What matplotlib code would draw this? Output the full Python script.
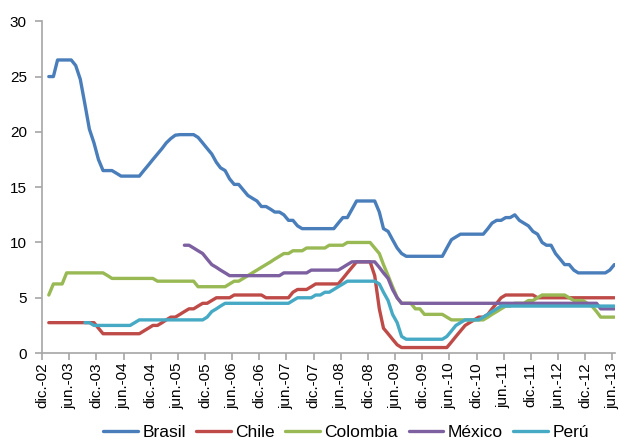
import numpy as np
import pandas as pd
import matplotlib
matplotlib.use("Agg")
import matplotlib.pyplot as plt

nan = np.nan

# monthly policy rates (%), Jan 2003 - Jun 2013
brasil = [
    25.0, 25.0, 26.5, 26.5, 26.5, 26.5, 26.0, 24.75, 22.5, 20.25, 19.0, 17.5,
    16.5, 16.5, 16.5, 16.25, 16.0, 16.0, 16.0, 16.0, 16.0, 16.5, 17.0, 17.5,
    18.0, 18.5, 19.0, 19.4, 19.7, 19.75, 19.75, 19.75, 19.75, 19.5, 19.0, 18.5,
    18.0, 17.25, 16.75, 16.5, 15.75, 15.25, 15.25, 14.75, 14.25, 14.0, 13.75, 13.25,
    13.25, 13.0, 12.75, 12.75, 12.5, 12.0, 12.0, 11.5, 11.25, 11.25, 11.25, 11.25,
    11.25, 11.25, 11.25, 11.25, 11.75, 12.25, 12.25, 13.0, 13.75, 13.75, 13.75, 13.75,
    13.75, 12.75, 11.25, 11.0, 10.25, 9.5, 9.0, 8.75, 8.75, 8.75, 8.75, 8.75,
    8.75, 8.75, 8.75, 8.75, 9.5, 10.25, 10.5, 10.75, 10.75, 10.75, 10.75, 10.75,
    10.75, 11.25, 11.75, 12.0, 12.0, 12.25, 12.25, 12.5, 12.0, 11.75, 11.5, 11.0,
    10.75, 10.0, 9.75, 9.75, 9.0, 8.5, 8.0, 8.0, 7.5, 7.25, 7.25, 7.25,
    7.25, 7.25, 7.25, 7.25, 7.5, 8.0,
]

chile = [
    2.75, 2.75, 2.75, 2.75, 2.75, 2.75, 2.75, 2.75, 2.75, 2.75, 2.75, 2.25,
    1.75, 1.75, 1.75, 1.75, 1.75, 1.75, 1.75, 1.75, 1.75, 2.0, 2.25, 2.5,
    2.5, 2.75, 3.0, 3.25, 3.25, 3.5, 3.75, 4.0, 4.0, 4.25, 4.5, 4.5,
    4.75, 5.0, 5.0, 5.0, 5.0, 5.25, 5.25, 5.25, 5.25, 5.25, 5.25, 5.25,
    5.0, 5.0, 5.0, 5.0, 5.0, 5.0, 5.5, 5.75, 5.75, 5.75, 6.0, 6.25,
    6.25, 6.25, 6.25, 6.25, 6.25, 6.75, 7.25, 7.75, 8.25, 8.25, 8.25, 8.25,
    7.0, 4.0, 2.25, 1.75, 1.25, 0.75, 0.5, 0.5, 0.5, 0.5, 0.5, 0.5,
    0.5, 0.5, 0.5, 0.5, 0.5, 1.0, 1.5, 2.0, 2.5, 2.75, 3.0, 3.25,
    3.25, 3.5, 4.0, 4.5, 5.0, 5.25, 5.25, 5.25, 5.25, 5.25, 5.25, 5.25,
    5.0, 5.0, 5.0, 5.0, 5.0, 5.0, 5.0, 5.0, 5.0, 5.0, 5.0, 5.0,
    5.0, 5.0, 5.0, 5.0, 5.0, 5.0,
]

colombia = [
    5.25, 6.25, 6.25, 6.25, 7.25, 7.25, 7.25, 7.25, 7.25, 7.25, 7.25, 7.25,
    7.25, 7.0, 6.75, 6.75, 6.75, 6.75, 6.75, 6.75, 6.75, 6.75, 6.75, 6.75,
    6.5, 6.5, 6.5, 6.5, 6.5, 6.5, 6.5, 6.5, 6.5, 6.0, 6.0, 6.0,
    6.0, 6.0, 6.0, 6.0, 6.25, 6.5, 6.5, 6.75, 7.0, 7.25, 7.5, 7.75,
    8.0, 8.25, 8.5, 8.75, 9.0, 9.0, 9.25, 9.25, 9.25, 9.5, 9.5, 9.5,
    9.5, 9.5, 9.75, 9.75, 9.75, 9.75, 10.0, 10.0, 10.0, 10.0, 10.0, 10.0,
    9.5, 9.0, 8.0, 7.0, 6.0, 5.0, 4.5, 4.5, 4.5, 4.0, 4.0, 3.5,
    3.5, 3.5, 3.5, 3.5, 3.25, 3.0, 3.0, 3.0, 3.0, 3.0, 3.0, 3.0,
    3.0, 3.25, 3.5, 3.75, 4.0, 4.25, 4.25, 4.5, 4.5, 4.5, 4.75, 4.75,
    5.0, 5.25, 5.25, 5.25, 5.25, 5.25, 5.25, 5.0, 4.75, 4.75, 4.75, 4.5,
    4.25, 3.75, 3.25, 3.25, 3.25, 3.25,
]

mexico = [
    nan, nan, nan, nan, nan, nan, nan, nan, nan, nan, nan, nan,
    nan, nan, nan, nan, nan, nan, nan, nan, nan, nan, nan, nan,
    nan, nan, nan, nan, nan, nan, 9.75, 9.75, 9.5, 9.25, 9.0, 8.5,
    8.0, 7.75, 7.5, 7.25, 7.0, 7.0, 7.0, 7.0, 7.0, 7.0, 7.0, 7.0,
    7.0, 7.0, 7.0, 7.0, 7.25, 7.25, 7.25, 7.25, 7.25, 7.25, 7.5, 7.5,
    7.5, 7.5, 7.5, 7.5, 7.5, 7.75, 8.0, 8.25, 8.25, 8.25, 8.25, 8.25,
    8.25, 7.75, 7.25, 6.75, 5.75, 5.0, 4.5, 4.5, 4.5, 4.5, 4.5, 4.5,
    4.5, 4.5, 4.5, 4.5, 4.5, 4.5, 4.5, 4.5, 4.5, 4.5, 4.5, 4.5,
    4.5, 4.5, 4.5, 4.5, 4.5, 4.5, 4.5, 4.5, 4.5, 4.5, 4.5, 4.5,
    4.5, 4.5, 4.5, 4.5, 4.5, 4.5, 4.5, 4.5, 4.5, 4.5, 4.5, 4.5,
    4.5, 4.5, 4.0, 4.0, 4.0, 4.0,
]

peru = [
    nan, nan, nan, nan, nan, nan, nan, nan, 2.75, 2.75, 2.5, 2.5,
    2.5, 2.5, 2.5, 2.5, 2.5, 2.5, 2.5, 2.75, 3.0, 3.0, 3.0, 3.0,
    3.0, 3.0, 3.0, 3.0, 3.0, 3.0, 3.0, 3.0, 3.0, 3.0, 3.0, 3.25,
    3.75, 4.0, 4.25, 4.5, 4.5, 4.5, 4.5, 4.5, 4.5, 4.5, 4.5, 4.5,
    4.5, 4.5, 4.5, 4.5, 4.5, 4.5, 4.75, 5.0, 5.0, 5.0, 5.0, 5.25,
    5.25, 5.5, 5.5, 5.75, 6.0, 6.25, 6.5, 6.5, 6.5, 6.5, 6.5, 6.5,
    6.5, 6.25, 5.5, 4.75, 3.5, 2.75, 1.5, 1.25, 1.25, 1.25, 1.25, 1.25,
    1.25, 1.25, 1.25, 1.25, 1.5, 2.0, 2.5, 2.75, 3.0, 3.0, 3.0, 3.0,
    3.25, 3.5, 3.75, 4.0, 4.25, 4.25, 4.25, 4.25, 4.25, 4.25, 4.25, 4.25,
    4.25, 4.25, 4.25, 4.25, 4.25, 4.25, 4.25, 4.25, 4.25, 4.25, 4.25, 4.25,
    4.25, 4.25, 4.25, 4.25, 4.25, 4.25,
]

series = [
    ("Brasil", brasil, "#4A7EBB"),
    ("Chile", chile, "#BE4B48"),
    ("Colombia", colombia, "#98B954"),
    ("México", mexico, "#7D60A0"),
    ("Perú", peru, "#46AAC5"),
]

tick_labels = [
    "dic.-02", "jun.-03", "dic.-03", "jun.-04", "dic.-04", "jun.-05",
    "dic.-05", "jun.-06", "dic.-06", "jun.-07", "dic.-07", "jun.-08",
    "dic.-08", "jun.-09", "dic.-09", "jun.-10", "dic.-10", "jun.-11",
    "dic.-11", "jun.-12", "dic.-12", "jun.-13",
]

# mid-month observations, ticks on the first of each half-year month
dates = pd.date_range("2003-01-01", periods=len(brasil), freq="MS") + pd.Timedelta(days=14)
tick_dates = pd.date_range("2002-12-01", periods=len(tick_labels), freq="6MS")

plt.rcParams["font.family"] = ["Liberation Sans", "DejaVu Sans"]

fig = plt.figure(figsize=(6.19, 4.43), dpi=100)
ax = fig.add_axes([0.068, 0.203, 0.926, 0.749])

for name, vals, color in series:
    ax.plot(dates.to_pydatetime(), vals, color=color, lw=2.4, label=name,
            solid_joinstyle="round", solid_capstyle="round")

ax.set_ylim(0, 30)
ax.set_yticks(range(0, 31, 5))
ax.set_xlim(pd.Timestamp("2002-12-01"), pd.Timestamp("2013-06-21"))
ax.set_xticks(tick_dates.to_pydatetime())
ax.set_xticklabels(tick_labels, rotation=90)

for side in ["top", "right"]:
    ax.spines[side].set_visible(False)
for side in ["left", "bottom"]:
    ax.spines[side].set_color("#A6A6A6")
    ax.spines[side].set_linewidth(1.2)

ax.tick_params(axis="both", direction="out", length=5, width=1.2,
               color="#A6A6A6", labelsize=11, labelcolor="black")
ax.tick_params(axis="y", pad=6)
ax.tick_params(axis="x", pad=2)

fig.legend(loc="center", bbox_to_anchor=(0.559, 0.024), ncol=5, frameon=False,
           fontsize=12.5, handlelength=2.0, handletextpad=0.25,
           columnspacing=0.6, borderpad=0.2)

fig.savefig("out.png", dpi=100)
